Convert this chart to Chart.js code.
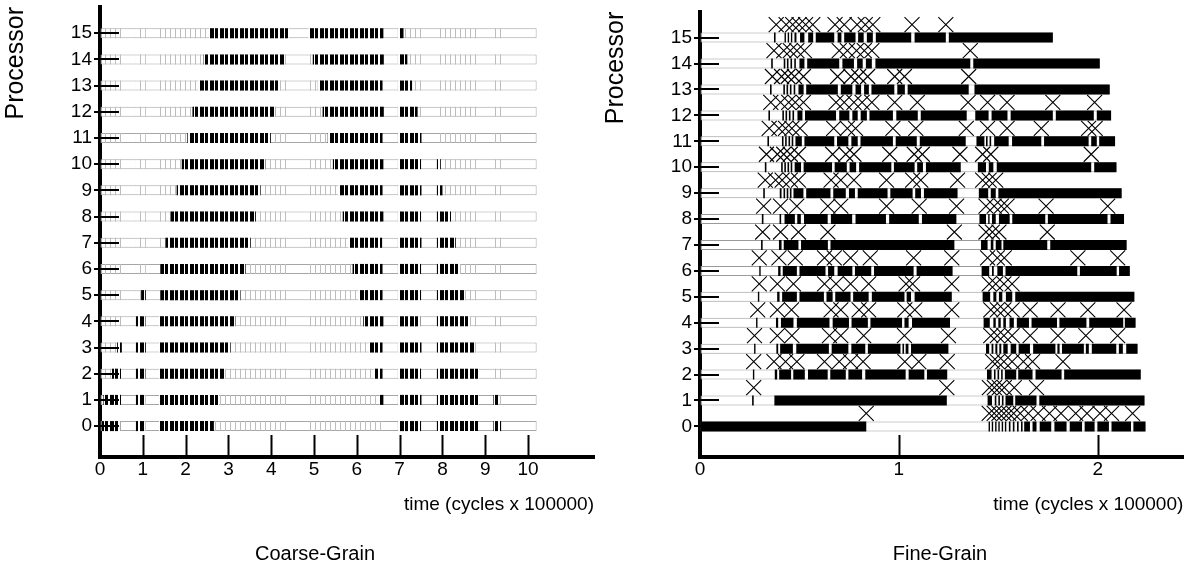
<!DOCTYPE html>
<html>
<head>
<meta charset="utf-8">
<script src="https://cdn.jsdelivr.net/npm/chart.js@4.4.1/dist/chart.umd.min.js"></script>
<style>
  html, body { margin: 0; padding: 0; background: #fff; }
  #wrap { position: relative; width: 1195px; height: 568px; overflow: hidden; font-family: 'Liberation Sans', Arial, sans-serif; }
  canvas { position: absolute; top: 0; }
  #coarse { left: 0; }
  #fine { left: 600px; }
  .caption { position: absolute; top: 541px; font-size: 20px; line-height: 24px; transform: translateX(-50%); white-space: nowrap; color: #000; }
</style>
</head>
<body>
<div id="wrap">
  <canvas id="coarse" width="600" height="568"></canvas>
  <canvas id="fine" width="595" height="568"></canvas>
  <div class="caption" style="left:315px">Coarse-Grain</div>
  <div class="caption" style="left:940px">Fine-Grain</div>
</div>
<script>
// ===================================================================
// Diagrama de atividade dos processadores (coarse-grain x fine-grain)
// ===================================================================

// --- Dados ---
const processors = [0, 1, 2, 3, 4, 5, 6, 7, 8, 9, 10, 11, 12, 13, 14, 15];
const processorTicks = processors;
const coarseTimeTicks = [0, 1, 2, 3, 4, 5, 6, 7, 8, 9, 10];
const fineTimeTicks = [0, 1, 2];

// Coarse-grain: fim da execução e janelas onde algum processador tem eventos (traços cinza claros)
const coarseRunEnd = 10.2;
const coarseActivitySpans = [[0.04, 0.5], [0.84, 1.07], [1.38, 4.43], [4.87, 6.62], [6.96, 7.51], [7.87, 8.85], [9.19, 9.37]];

// Coarse-grain: trechos de eventos próprios de cada processador (traços pretos), índice = processador
const coarseBusy = [
  [[0.04, 0.47], [0.84, 1.04], [1.38, 2.66], [6.96, 7.5], [7.87, 8.83], [9.19, 9.37]],
  [[0.08, 0.49], [0.84, 1.04], [1.38, 2.78], [6.53, 6.62], [6.96, 7.51], [7.87, 8.84], [9.19, 9.3]],
  [[0.28, 0.49], [0.84, 1.06], [1.38, 2.92], [6.4, 6.6], [6.96, 7.5], [7.87, 8.85]],
  [[0.4, 0.51], [0.84, 1.07], [1.38, 3.05], [6.28, 6.6], [6.96, 7.51], [7.87, 8.75]],
  [[0.84, 1.06], [1.38, 3.16], [6.15, 6.62], [6.96, 7.48], [7.87, 8.64]],
  [[0.96, 1.07], [1.41, 3.28], [6.03, 6.6], [6.96, 7.5], [7.87, 8.52]],
  [[1.41, 3.4], [5.9, 6.6], [6.96, 7.5], [7.87, 8.41]],
  [[1.53, 3.52], [5.8, 6.59], [6.96, 7.51], [7.87, 8.31]],
  [[1.65, 3.64], [5.67, 6.62], [6.96, 7.5], [7.87, 8.2]],
  [[1.79, 3.75], [5.56, 6.6], [6.96, 7.51], [7.87, 8.0]],
  [[1.91, 3.86], [5.44, 6.62], [6.96, 7.5], [7.87, 7.96]],
  [[2.04, 3.99], [5.32, 6.6], [6.96, 7.51]],
  [[2.16, 4.09], [5.2, 6.63], [6.96, 7.42]],
  [[2.29, 4.2], [5.09, 6.6], [6.96, 7.29]],
  [[2.42, 4.31], [4.97, 6.63], [6.96, 7.18]],
  [[2.55, 4.41], [4.87, 6.62], [6.96, 7.09]]
];

// Fine-grain: fim da execução de cada processador
const fineRunEnd = [2.24, 2.235, 2.216, 2.2, 2.19, 2.184, 2.161, 2.145, 2.132, 2.12, 2.094, 2.087, 2.067, 2.06, 2.01, 1.774];

// Fine-grain: trechos ocupados (barras pretas), índice = processador
const fineBusy = [
  [[0, 0.836], [1.451, 1.458], [1.467, 1.474], [1.484, 1.491], [1.5, 1.507], [1.517, 1.524], [1.533, 1.54], [1.553, 1.561], [1.573, 1.581], [1.594, 1.602], [1.614, 1.622], [1.63, 1.659], [1.672, 1.692], [1.708, 1.766], [1.782, 1.843], [1.859, 1.921], [1.934, 1.984], [1.998, 2.056], [2.069, 2.167], [2.179, 2.24]],
  [[0.262, 0.27], [0.374, 1.241], [1.446, 1.468], [1.482, 1.49], [1.5, 1.508], [1.518, 1.526], [1.536, 1.575], [1.585, 1.692], [1.706, 2.235]],
  [[0.266, 0.273], [0.376, 0.388], [0.398, 0.458], [0.469, 0.527], [0.543, 0.642], [0.655, 0.733], [0.746, 0.815], [0.831, 1.034], [1.049, 1.128], [1.141, 1.243], [1.443, 1.466], [1.478, 1.486], [1.496, 1.504], [1.514, 1.522], [1.533, 1.59], [1.6, 1.672], [1.687, 1.818], [1.831, 2.216]],
  [[0.272, 0.279], [0.384, 0.393], [0.403, 0.467], [0.484, 0.648], [0.662, 0.746], [0.761, 0.831], [0.844, 1.008], [1.018, 1.026], [1.034, 1.048], [1.061, 1.249], [1.438, 1.454], [1.466, 1.475], [1.485, 1.495], [1.505, 1.515], [1.525, 1.547], [1.562, 1.59], [1.602, 1.659], [1.675, 1.787], [1.797, 1.808], [1.82, 1.93], [1.94, 1.955], [1.97, 2.093], [2.106, 2.126], [2.143, 2.2]],
  [[0.282, 0.289], [0.382, 0.393], [0.407, 0.47], [0.487, 0.651], [0.667, 0.749], [0.762, 0.844], [0.857, 1.016], [1.028, 1.049], [1.066, 1.257], [1.426, 1.457], [1.475, 1.487], [1.5, 1.512], [1.525, 1.538], [1.556, 1.578], [1.593, 1.654], [1.667, 1.795], [1.807, 1.943], [1.957, 2.128], [2.136, 2.19]],
  [[0.291, 0.298], [0.388, 0.4], [0.413, 0.487], [0.5, 0.623], [0.636, 0.667], [0.68, 0.757], [0.77, 0.848], [0.864, 1.028], [1.039, 1.061], [1.079, 1.266], [1.421, 1.459], [1.475, 1.49], [1.503, 1.52], [1.538, 1.57], [1.585, 2.184]],
  [[0.298, 0.305], [0.393, 0.405], [0.416, 0.487], [0.5, 0.631], [0.644, 0.675], [0.692, 0.766], [0.779, 0.861], [0.875, 1.074], [1.089, 1.27], [1.416, 1.454], [1.468, 1.477], [1.495, 1.523], [1.536, 1.897], [1.91, 2.095], [2.107, 2.161]],
  [[0.307, 0.315], [0.397, 0.41], [0.421, 0.495], [0.508, 0.643], [0.656, 1.279], [1.413, 1.446], [1.462, 1.475], [1.487, 1.516], [1.525, 1.746], [1.761, 2.145]],
  [[0.311, 0.319], [0.4, 0.408], [0.425, 0.477], [0.489, 0.507], [0.523, 0.642], [0.658, 0.765], [0.782, 0.935], [0.951, 1.1], [1.116, 1.289], [1.405, 1.438], [1.449, 1.456], [1.468, 1.487], [1.503, 1.557], [1.57, 1.736], [1.749, 2.049], [2.064, 2.132]],
  [[0.318, 0.326], [0.401, 0.41], [0.42, 0.428], [0.436, 0.444], [0.452, 0.46], [0.47, 0.52], [0.534, 0.656], [0.67, 0.733], [0.749, 0.779], [0.793, 0.943], [0.957, 1.069], [1.082, 1.111], [1.126, 1.295], [1.402, 1.449], [1.462, 1.487], [1.5, 2.12]],
  [[0.326, 0.334], [0.408, 0.416], [0.424, 0.432], [0.44, 0.448], [0.456, 0.464], [0.476, 0.508], [0.521, 0.664], [0.677, 0.738], [0.752, 0.785], [0.8, 0.962], [0.975, 1.079], [1.092, 1.121], [1.136, 1.311], [1.397, 1.438], [1.452, 1.475], [1.492, 1.967], [1.982, 2.094]],
  [[0.339, 0.347], [0.412, 0.42], [0.428, 0.436], [0.445, 0.453], [0.461, 0.469], [0.48, 0.512], [0.525, 0.675], [0.689, 0.746], [0.761, 0.793], [0.807, 0.97], [0.984, 1.09], [1.105, 1.336], [1.39, 1.43], [1.438, 1.446], [1.456, 1.464], [1.479, 1.552], [1.569, 1.716], [1.73, 1.954], [1.967, 1.995], [2.007, 2.087]],
  [[0.344, 0.352], [0.414, 0.422], [0.43, 0.438], [0.447, 0.455], [0.465, 0.473], [0.49, 0.515], [0.528, 0.684], [0.7, 0.751], [0.766, 0.793], [0.808, 0.839], [0.852, 0.97], [0.987, 1.095], [1.11, 1.341], [1.384, 1.451], [1.466, 1.546], [1.562, 1.774], [1.789, 1.98], [1.995, 2.067]],
  [[0.352, 0.36], [0.419, 0.427], [0.435, 0.443], [0.452, 0.46], [0.471, 0.479], [0.495, 0.521], [0.534, 0.693], [0.708, 0.766], [0.782, 0.81], [0.825, 0.849], [0.862, 0.977], [0.992, 1.03], [1.044, 1.351], [1.38, 2.06]],
  [[0.358, 0.366], [0.421, 0.429], [0.437, 0.445], [0.455, 0.463], [0.474, 0.482], [0.5, 0.525], [0.539, 0.7], [0.716, 0.774], [0.79, 0.818], [0.834, 0.864], [0.882, 1.359], [1.374, 2.01]],
  [[0.372, 0.38], [0.425, 0.432], [0.441, 0.448], [0.457, 0.464], [0.475, 0.485], [0.503, 0.525], [0.544, 0.569], [0.582, 0.675], [0.692, 0.711], [0.725, 0.782], [0.795, 0.823], [0.839, 0.869], [0.884, 1.062], [1.079, 1.236], [1.251, 1.774]]
];

// Fine-grain: instantes marcados com "X" logo acima da linha de cada processador
const fineEvents = [
  [0.836, 1.454, 1.479, 1.503, 1.528, 1.552, 1.577, 1.61, 1.651, 1.7, 1.757, 1.815, 1.889, 1.946, 2.011, 2.069, 2.175],
  [0.27, 1.241, 1.455, 1.48, 1.505, 1.53, 1.58, 1.692],
  [0.27, 0.372, 0.43, 0.487, 0.626, 0.7, 0.757, 0.82, 1.03, 1.1, 1.243, 1.471, 1.495, 1.528, 1.569, 1.626, 1.672, 1.825],
  [0.274, 0.389, 0.462, 0.651, 0.708, 0.823, 1.028, 1.249, 1.462, 1.495, 1.528, 1.569, 1.66, 1.8, 1.94, 2.1],
  [0.29, 0.389, 0.46, 0.659, 0.708, 0.8, 0.848, 1.03, 1.08, 1.266, 1.462, 1.495, 1.528, 1.569, 1.66, 1.8, 1.95, 2.132],
  [0.298, 0.389, 0.47, 0.626, 0.684, 0.757, 0.848, 1.036, 1.069, 1.266, 1.454, 1.487, 1.528, 1.569],
  [0.298, 0.397, 0.479, 0.626, 0.675, 0.757, 0.856, 1.074, 1.266, 1.446, 1.495, 1.53, 1.9, 2.1],
  [0.315, 0.405, 0.495, 0.643, 1.279, 1.438, 1.47, 1.503, 1.746],
  [0.32, 0.405, 0.487, 0.643, 0.708, 0.938, 1.102, 1.29, 1.438, 1.479, 1.515, 1.544, 1.74, 2.05],
  [0.328, 0.38, 0.413, 0.454, 0.495, 0.659, 0.708, 0.774, 0.938, 1.069, 1.11, 1.295, 1.421, 1.454, 1.487],
  [0.334, 0.389, 0.421, 0.454, 0.495, 0.667, 0.733, 0.774, 0.954, 1.077, 1.118, 1.307, 1.421, 1.462, 1.967],
  [0.348, 0.397, 0.43, 0.462, 0.503, 0.672, 0.741, 0.782, 0.97, 1.085, 1.339, 1.446, 1.544, 1.716, 1.954, 1.987],
  [0.356, 0.405, 0.446, 0.479, 0.52, 0.684, 0.725, 0.774, 0.815, 0.864, 0.979, 1.093, 1.348, 1.446, 1.544, 1.774, 1.984],
  [0.364, 0.41, 0.443, 0.475, 0.52, 0.692, 0.759, 0.798, 0.843, 0.979, 1.028, 1.351],
  [0.372, 0.421, 0.454, 0.487, 0.525, 0.7, 0.741, 0.787, 0.826, 0.864, 1.359],
  [0.383, 0.433, 0.466, 0.498, 0.531, 0.567, 0.679, 0.725, 0.79, 0.831, 0.869, 1.066, 1.236]
];

// --- Estilos ---
Chart.defaults.font.family = "'Liberation Sans', Arial, sans-serif";
Chart.defaults.color = '#000';

// Padrão de listras verticais (um traço por evento) para preencher as barras do coarse-grain
function stripePattern(width, cols) {
  const c = document.createElement('canvas');
  c.width = width;
  c.height = 1;
  const g = c.getContext('2d');
  cols.forEach(([x0, w, color]) => { g.fillStyle = color; g.fillRect(x0, 0, w, 1); });
  return g.createPattern(c, 'repeat');
}
const lightStripes = stripePattern(5, [[0, 1, '#bdbdbd']]);
const darkStripes = stripePattern(10, [[0, 4, '#000'], [4, 1, '#fff'], [5, 3, '#000'], [8, 2, '#fff']]);

// Traços dos eixos: marcas das linhas (processadores) e marcas internas do eixo do tempo
const axisMarks = {
  id: 'axisMarks',
  afterDatasetsDraw(chart) {
    const { ctx, chartArea, scales: { x, y } } = chart;
    ctx.save();
    ctx.strokeStyle = '#000';
    ctx.lineWidth = 2;
    ctx.beginPath();
    y.ticks.forEach(t => {
      const py = Math.round(y.getPixelForValue(t.value));
      ctx.moveTo(chartArea.left - 6, py);
      ctx.lineTo(chartArea.left + 19, py);
    });
    x.ticks.forEach(t => {
      const px = Math.round(x.getPixelForValue(t.value)) + 0.5;
      ctx.moveTo(px, chartArea.bottom);
      ctx.lineTo(px, chartArea.bottom - 22);
    });
    ctx.stroke();
    ctx.restore();
  }
};

// --- Escalas ---
function timeScale(max, ticks) {
  return {
    type: 'linear', min: 0, max: max, offset: false, z: 1,
    grid: { display: true, drawOnChartArea: false, drawTicks: false, offset: false },
    border: { display: true, width: 4, color: '#000' },
    afterBuildTicks: s => { s.ticks = ticks.map(v => ({ value: v })); },
    afterFit: s => { s.height = 111; s.paddingLeft = 0; s.paddingRight = 0; },
    ticks: { padding: 1, font: { size: 19 }, color: '#000', maxRotation: 0, autoSkip: false },
    title: { display: true, text: 'time (cycles x 100000)', align: 'end', color: '#000', font: { size: 19 }, padding: { top: 0, bottom: 52 } }
  };
}

function processorScale() {
  return {
    type: 'linear', min: -1.18, max: 16, offset: false, z: 1,
    grid: { display: true, drawOnChartArea: false, drawTicks: false, offset: false },
    border: { display: true, width: 4, color: '#000' },
    afterBuildTicks: s => { s.ticks = processorTicks.map(v => ({ value: v })); },
    afterFit: s => { s.width = 100; s.paddingTop = 0; s.paddingBottom = 0; },
    ticks: { padding: 8, font: { size: 19 }, color: '#000', autoSkip: false },
    title: { display: true, text: 'Processor', align: 'end', color: '#000', font: { size: 25 }, padding: { top: 1, bottom: 0 } }
  };
}

function barSet(opts) {
  return Object.assign({
    type: 'bar', indexAxis: 'y', grouped: false, barThickness: 10,
    borderWidth: 0, borderSkipped: false, inflateAmount: 0
  }, opts);
}

function baseOptions(xMax, xTicks, padRight) {
  return {
    responsive: false,
    animation: false,
    events: [],
    layout: { padding: { top: 7, left: 0, right: padRight, bottom: 0 } },
    plugins: { legend: { display: false }, tooltip: { enabled: false }, title: { display: false } },
    scales: { x: timeScale(xMax, xTicks), y: processorScale() }
  };
}

// --- Gráfico coarse-grain ---
new Chart(document.getElementById('coarse'), {
  type: 'bar',
  data: {
    datasets: [
      barSet({ label: 'run', order: 3, backgroundColor: '#fff', borderColor: '#a6a6a6', borderWidth: 1,
        data: processors.map(p => ({ y: p, x: [0, coarseRunEnd] })) }),
      barSet({ label: 'activity', order: 2, backgroundColor: lightStripes,
        data: processors.flatMap(p => coarseActivitySpans.map(s => ({ y: p, x: s }))) }),
      barSet({ label: 'busy', order: 1, backgroundColor: darkStripes,
        data: processors.flatMap(p => coarseBusy[p].map(s => ({ y: p, x: s }))) })
    ]
  },
  options: baseOptions(11.54, coarseTimeTicks, 6),
  plugins: [axisMarks]
});

// --- Gráfico fine-grain ---
new Chart(document.getElementById('fine'), {
  type: 'bar',
  data: {
    datasets: [
      barSet({ label: 'run', order: 3, backgroundColor: '#fff', borderColor: '#9a9a9a', borderWidth: 1,
        data: processors.map(p => ({ y: p, x: [0, fineRunEnd[p]] })) }),
      barSet({ label: 'busy', order: 2, backgroundColor: '#000',
        data: processors.flatMap(p => fineBusy[p].map(s => ({ y: p, x: s }))) }),
      { type: 'scatter', label: 'events', order: 1, indexAxis: 'x',
        pointStyle: 'crossRot', pointRadius: 10.6, borderColor: '#000', borderWidth: 1.1, backgroundColor: 'transparent',
        data: processors.flatMap(p => fineEvents[p].map(t => ({ x: t, y: p + 0.5 }))) }
    ]
  },
  options: baseOptions(2.43, fineTimeTicks, 2),
  plugins: [axisMarks]
});
</script>
</body>
</html>
